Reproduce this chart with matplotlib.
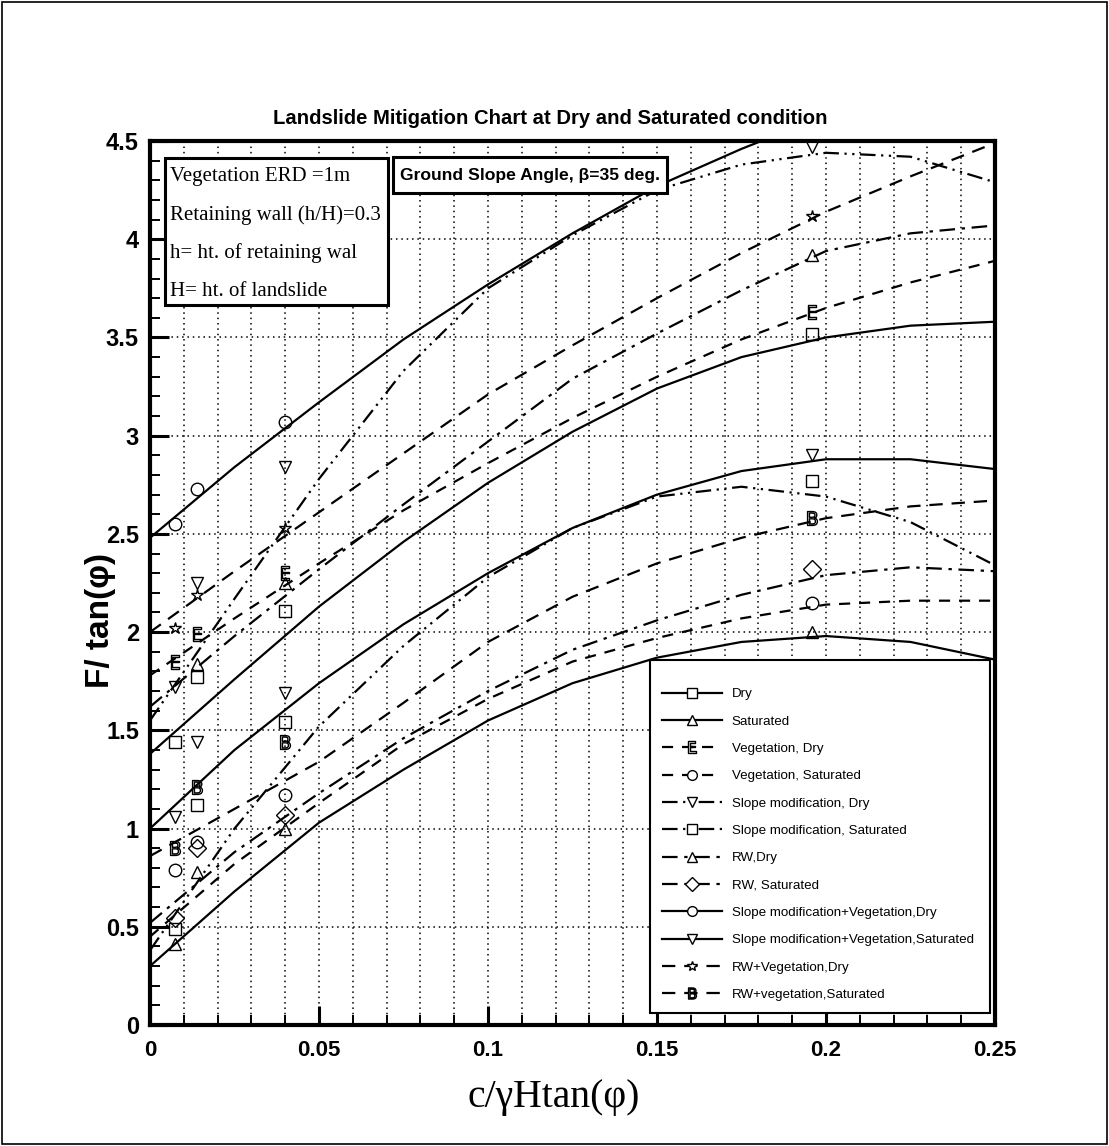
import numpy as np
import matplotlib
matplotlib.use('Agg')
import matplotlib.pyplot as plt
from matplotlib.lines import Line2D
from matplotlib.patches import Rectangle

sans = ['Liberation Sans', 'DejaVu Sans']
serif = ['Liberation Serif', 'DejaVu Serif']

# curve sample points
x = [0, 0.025, 0.05, 0.075, 0.1, 0.125, 0.15, 0.175, 0.2, 0.225, 0.25]
# abscissae of the data markers
mx = [0.0075, 0.014, 0.04, 0.196]

nan = np.nan
labels = ['Dry', 'Saturated', 'Vegetation, Dry', 'Vegetation, Saturated',
          'Slope modification, Dry', 'Slope modification, Saturated',
          'RW,Dry', 'RW, Saturated',
          'Slope modification+Vegetation,Dry', 'Slope modification+Vegetation,Saturated',
          'RW+Vegetation,Dry', 'RW+vegetation,Saturated']

dry = [1.38, 1.76, 2.13, 2.46, 2.76, 3.02, 3.24, 3.40, 3.50, 3.56, 3.58]
sat = [0.30, 0.68, 1.03, 1.30, 1.55, 1.74, 1.87, 1.95, 1.98, 1.95, 1.86]
veg_dry = [1.78, 2.07, 2.35, 2.62, 2.86, 3.09, 3.30, 3.49, 3.65, 3.78, 3.89]
veg_sat = [0.45, 0.82, 1.13, 1.43, 1.66, 1.85, 1.97, 2.07, 2.14, 2.16, 2.16]
sm_dry = [1.55, 2.17, 2.78, 3.33, 3.75, 4.02, 4.25, 4.38, 4.44, 4.42, 4.29]
sm_sat = [0.38, 1.00, 1.52, 1.93, 2.28, 2.53, 2.69, 2.74, 2.69, 2.56, 2.34]
rw_dry = [1.62, 1.98, 2.32, 2.65, 2.97, 3.29, 3.52, 3.74, 3.94, 4.03, 4.07]
rw_sat = [0.52, 0.88, 1.18, 1.46, 1.70, 1.91, 2.06, 2.19, 2.29, 2.33, 2.31]
smv_dry = [2.48, 2.84, 3.17, 3.49, 3.77, 4.03, 4.27, 4.46, 4.63, nan, nan]
smv_sat = [1.00, 1.40, 1.74, 2.04, 2.30, 2.53, 2.70, 2.82, 2.88, 2.88, 2.83]
rwv_dry = [2.00, 2.31, 2.61, 2.91, 3.21, 3.46, 3.70, 3.93, 4.14, 4.32, 4.49]
rwv_sat = [0.86, 1.10, 1.34, 1.64, 1.95, 2.18, 2.35, 2.48, 2.58, 2.64, 2.67]

# marker (data point) values at mx
m_dry = [1.44, 1.77, 2.11, 3.52]
m_sat = [0.41, 0.78, 1.00, 2.00]
m_veg_dry = [1.85, 1.99, 2.30, 3.63]
m_veg_sat = [0.79, 0.93, 1.17, 2.15]
m_sm_dry = [1.72, 2.25, 2.84, 4.47]
m_sm_sat = [0.49, 1.12, 1.54, 2.77]
m_rw_dry = [nan, 1.84, 2.25, 3.92]
m_rw_sat = [0.545, 0.90, 1.07, 2.32]
m_smv_dry = [2.55, 2.73, 3.07, nan]
m_smv_sat = [1.06, 1.44, 1.69, 2.90]
m_rwv_dry = [2.02, 2.19, 2.53, 4.12]
m_rwv_sat = [0.90, 1.21, 1.44, 2.58]

curves = [dry, sat, veg_dry, veg_sat, sm_dry, sm_sat, rw_dry, rw_sat,
          smv_dry, smv_sat, rwv_dry, rwv_sat]
points = [m_dry, m_sat, m_veg_dry, m_veg_sat, m_sm_dry, m_sm_sat, m_rw_dry, m_rw_sat,
          m_smv_dry, m_smv_sat, m_rwv_dry, m_rwv_sat]

dash = (0, (5, 4))
dd = (0, (7, 2.5, 1, 2.5, 1, 2.5))
dot_dash = (0, (7, 3, 1.5, 3))
long_dash = (0, (6, 4))
styles = ['-', '-', dash, dash, dd, dd, dot_dash, dot_dash, '-', '-', long_dash, long_dash]
markers = ['s', '^', r'$\mathsf{E}$', 'o', 'v', 's', '^', 'D', 'o', 'v', '*', r'$\mathsf{B}$']

fig = plt.figure(figsize=(11.09, 11.46), dpi=100)
ax = fig.add_axes([0.13526, 0.10558, 0.76195, 0.77138])

handles = []
for yc, ym, ls, mk, lab in zip(curves, points, styles, markers, labels):
    ax.plot(x, yc, color='black', lw=1.6, ls=ls)
    ms = 10 if mk.startswith('$') else 9
    ax.plot(mx, ym, ls='none', marker=mk, ms=ms, mfc='none', mec='black', mew=1.0)
    handles.append(Line2D([], [], color='black', lw=1.6, ls=ls, marker=mk, ms=ms - 2,
                          mfc='white', mec='black', mew=1.0, label=lab))

ax.set_xlim(0, 0.25)
ax.set_ylim(0, 4.5)
ax.set_xticks(np.arange(0, 0.2501, 0.05))
ax.set_xticks(np.arange(0, 0.2501, 0.01), minor=True)
ax.set_yticks(np.arange(0, 4.51, 0.5))
ax.set_yticks(np.arange(0, 4.51, 0.1), minor=True)
ax.set_xticklabels(['0', '0.05', '0.1', '0.15', '0.2', '0.25'])
ax.set_yticklabels(['0', '0.5', '1', '1.5', '2', '2.5', '3', '3.5', '4', '4.5'])

ax.grid(which='major', color='black', ls=(0, (1, 2.5)), lw=1.1)
ax.grid(which='minor', axis='x', color='black', ls=(0, (1, 2.5)), lw=1.1)
ax.tick_params(which='major', direction='in', length=14, width=2.2, pad=8)
ax.tick_params(axis='x', which='major', pad=11)
ax.tick_params(which='minor', direction='in', length=7, width=1.4)
for s in ax.spines.values():
    s.set_linewidth(3)

for t in ax.get_yticklabels():
    t.set_family(sans)
    t.set_fontweight('bold')
    t.set_fontsize(17)
for t in ax.get_xticklabels():
    t.set_family(sans)
    t.set_fontweight('bold')
    t.set_fontsize(16)

ax.set_ylabel('F/ tan(φ)', family=sans, fontweight='bold', fontsize=24)
ax.yaxis.set_label_coords(-0.04, 0.458)
ax.set_xlabel('c/γHtan(φ)', family=serif, fontsize=28.5)
ax.xaxis.set_label_coords(0.478, -0.061)
fig.text(0.496, 0.897, 'Landslide Mitigation Chart at Dry and Saturated condition',
         ha='center', va='center', family=sans, fontweight='bold', fontsize=14.6)

# text boxes
ax.add_patch(Rectangle((0.0178, 0.8145), 0.2639, 0.1663, transform=ax.transAxes,
                       fc='white', ec='black', lw=2.2, zorder=5))
notes = ['Vegetation ERD =1m', 'Retaining wall (h/H)=0.3',
         'h= ht. of retaining wal', 'H= ht. of landslide']
for i, n in enumerate(notes):
    ax.text(0.0237, 0.9593 - i * 0.0433, n, transform=ax.transAxes, ha='left', va='center',
            family=serif, fontsize=15, zorder=6)

ax.add_patch(Rectangle((0.2876, 0.9412), 0.3242, 0.0407, transform=ax.transAxes,
                       fc='white', ec='black', lw=2.2, zorder=5))
ax.text(0.4497, 0.9615, 'Ground Slope Angle, β=35 deg.', transform=ax.transAxes,
        ha='center', va='center', family=sans, fontweight='bold', fontsize=12.6, zorder=6)

leg = ax.legend(handles=handles, loc='lower left', bbox_to_anchor=(0.592, 0.0136, 0.402, 0.4),
                mode='expand', borderaxespad=0, frameon=True, fancybox=False,
                edgecolor='black', framealpha=1, handlelength=4.5, handletextpad=0.7,
                labelspacing=1.125, borderpad=0.9, title=' ', title_fontsize=1,
                prop={'family': sans, 'size': 9.6})
leg.get_frame().set_linewidth(1.5)
leg.set_zorder(7)

fig.patches.append(Rectangle((0.002, 0.002), 0.996, 0.996, transform=fig.transFigure,
                             fill=False, ec='black', lw=1.2))

fig.savefig('out.png', dpi=100)
